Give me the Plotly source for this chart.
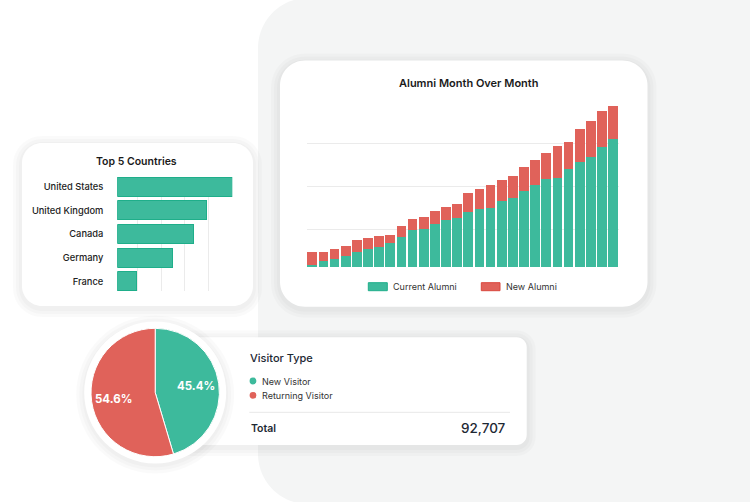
import math
import plotly.graph_objects as go

# ---------------- data ----------------
months = [f"M{i}" for i in range(1, 29)]
current_alumni = [50, 130, 190, 250, 360, 410, 460, 550, 700, 850, 880, 1010, 1090, 1130,
                  1270, 1350, 1370, 1530, 1600, 1770, 1910, 2050, 2070, 2270, 2430, 2550, 2780, 2970]
new_alumni = [290, 230, 230, 250, 270, 260, 260, 200, 260, 260, 290, 300, 300, 340,
              450, 470, 540, 500, 520, 560, 580, 610, 750, 640, 790, 840, 840, 770]
alumni_grid = [877, 1877, 2877, 3877]

countries = ["United States", "United Kingdom", "Canada", "Germany", "France"]
country_values = [4850, 3780, 3230, 2350, 820]
country_grid = [860, 1860, 2860, 3860, 4860]

visitor_types = ["New Visitor", "Returning Visitor"]
visitor_share = [45.4, 54.6]
visitor_total = "92,707"

TEAL = "#3dba9c"
TEAL_EDGE = "#1fae8a"
RED = "#e0625a"
RED_EDGE = "#d9473d"
FONT = "Inter"

W, H = 750, 502


def px(x):
    return x / W


def py(y):
    return 1 - y / H


def rrect_path(x0, y0, x1, y1, r):
    k = 0.5523 * r

    def P(x, y):
        return f"{px(x):.5f},{py(y):.5f}"
    d = f"M {P(x0 + r, y0)} L {P(x1 - r, y0)} "
    d += f"C {P(x1 - r + k, y0)} {P(x1, y0 + r - k)} {P(x1, y0 + r)} "
    d += f"L {P(x1, y1 - r)} "
    d += f"C {P(x1, y1 - r + k)} {P(x1 - r + k, y1)} {P(x1 - r, y1)} "
    d += f"L {P(x0 + r, y1)} "
    d += f"C {P(x0 + r - k, y1)} {P(x0, y1 - r + k)} {P(x0, y1 - r)} "
    d += f"L {P(x0, y0 + r)} "
    d += f"C {P(x0, y0 + r - k)} {P(x0 + r - k, y0)} {P(x0 + r, y0)} Z"
    return d


shapes = []


def add_rrect(x0, y0, x1, y1, r, color, line=None):
    shapes.append(dict(type="path", xref="paper", yref="paper", layer="below",
                       path=rrect_path(x0, y0, x1, y1, r), fillcolor=color,
                       line=dict(width=0) if line is None else line))


def add_shadow(x0, y0, x1, y1, r):
    for s in [9, 6, 3]:
        add_rrect(x0 - s, y0 - s + 2, x1 + s, y1 + s + 2, r + s, "rgba(0,0,0,0.018)")


def add_circle(cx, cy, r, color):
    shapes.append(dict(type="circle", xref="paper", yref="paper", layer="below",
                       x0=px(cx - r), x1=px(cx + r), y0=py(cy + r), y1=py(cy - r),
                       fillcolor=color, line=dict(width=0)))


PIE_CX, PIE_CY, PIE_R = 155.2, 392.5, 64.2

# background gray panel
add_rrect(258, -2, 900, 504, 50, "#f4f5f5")
# alumni card
add_shadow(280, 60.5, 647.5, 306.7, 25)
add_rrect(280, 60.5, 647.5, 306.7, 25, "#ffffff")
# top 5 card
add_shadow(22, 143, 253, 306, 20)
add_rrect(22, 143, 253, 306, 20, "#ffffff")
# visitor card
add_shadow(180, 337.3, 526.7, 445, 10)
add_rrect(180, 337.3, 526.7, 445, 10, "#ffffff")
# pie halo
for s in [8, 5, 2]:
    add_circle(PIE_CX, PIE_CY + 2, 71 + s, "rgba(0,0,0,0.02)")
add_circle(PIE_CX, PIE_CY, 71, "#ffffff")

# legend for alumni chart
shapes.append(dict(type="rect", xref="paper", yref="paper", x0=px(368.3), x1=px(387.3),
                   y0=py(290.7), y1=py(282.7), fillcolor=TEAL, line=dict(color=TEAL_EDGE, width=1)))
shapes.append(dict(type="rect", xref="paper", yref="paper", x0=px(481.3), x1=px(500),
                   y0=py(290.7), y1=py(282.7), fillcolor=RED, line=dict(color=RED_EDGE, width=1)))
# visitor legend dots
for cy, col in [(381, TEAL), (395.3, RED)]:
    shapes.append(dict(type="circle", xref="paper", yref="paper", x0=px(253 - 3.4), x1=px(253 + 3.4),
                       y0=py(cy + 3.4), y1=py(cy - 3.4), fillcolor=col, line=dict(width=0)))
# separator
shapes.append(dict(type="line", xref="paper", yref="paper", x0=px(249.3), x1=px(510),
                   y0=py(412.3), y1=py(412.3), line=dict(color="#e8e8e8", width=1)))

fig = go.Figure()

fig.add_trace(go.Bar(x=months, y=current_alumni, name="Current Alumni",
                     marker=dict(color=TEAL, line=dict(width=0)), xaxis="x", yaxis="y",
                     showlegend=False))
fig.add_trace(go.Bar(x=months, y=new_alumni, name="New Alumni",
                     marker=dict(color=RED, line=dict(width=0)), xaxis="x", yaxis="y",
                     showlegend=False))

fig.add_trace(go.Bar(x=country_values, y=countries, orientation="h",
                     marker=dict(color=TEAL, line=dict(color=TEAL_EDGE, width=1)),
                     xaxis="x2", yaxis="y2", showlegend=False, width=0.8))

fig.add_trace(go.Pie(labels=visitor_types, values=visitor_share, sort=False,
                     direction="clockwise", rotation=0,
                     marker=dict(colors=[TEAL, RED], line=dict(color="#ffffff", width=1)),
                     textinfo="none",
                     domain=dict(x=[px(PIE_CX - PIE_R), px(PIE_CX + PIE_R)],
                                 y=[py(PIE_CY + PIE_R), py(PIE_CY - PIE_R)]),
                     showlegend=False, hoverinfo="label+percent"))


def ann(text, x, y, xanchor, size, color, weight=400):
    return dict(text=text, x=px(x), y=py(y), xanchor=xanchor, yanchor="middle",
                xref="paper", yref="paper", showarrow=False,
                font=dict(family=FONT, size=size, color=color, weight=weight))


annotations = [
    ann("Alumni Month Over Month", 468.3, 82.7, "center", 11, "#1a1a1a", 600),
    ann("Current Alumni", 391, 286.7, "left", 9, "#333333"),
    ann("New Alumni", 504, 286.7, "left", 9, "#333333"),
    ann("Top 5 Countries", 136.7, 162, "center", 10.5, "#1a1a1a", 600),
    ann("Visitor Type", 247.5, 358.3, "left", 11, "#1d2833", 500),
    ann("New Visitor", 259.5, 381, "left", 9, "#333333"),
    ann("Returning Visitor", 259.5, 395.3, "left", 9, "#333333"),
    ann("Total", 248.5, 428.3, "left", 10.5, "#1d2833", 600),
    ann(visitor_total, 508, 428.3, "right", 13.5, "#1d2833", 500),
]

# percentage labels inside the pie slices, placed along each slice's bisector
total_share = sum(visitor_share)
cum = 0.0
for share in visitor_share:
    mid = (cum + share / 2) / total_share * 2 * math.pi
    cum += share
    lx = PIE_CX + 0.65 * PIE_R * math.sin(mid)
    ly = PIE_CY - 0.65 * PIE_R * math.cos(mid)
    annotations.append(ann(f"{share:.1f}%", lx, ly, "center", 11.5, "#ffffff", 700))

fig.update_layout(
    width=W, height=H, margin=dict(l=0, r=0, t=0, b=0),
    paper_bgcolor="#ffffff", plot_bgcolor="rgba(0,0,0,0)",
    barmode="stack", bargap=0.13,
    shapes=shapes, annotations=annotations,
    font=dict(family=FONT),
    xaxis=dict(domain=[px(306.7), px(618.7)], range=[-0.5, 27.5], showticklabels=False,
               showgrid=False, zeroline=False, showline=False, ticks="", fixedrange=True),
    yaxis=dict(domain=[py(267), py(99.7)], range=[0, 3890], tickvals=alumni_grid,
               showticklabels=False, showgrid=True, gridcolor="#ebebeb", gridwidth=1,
               zeroline=False, showline=False, ticks="", fixedrange=True),
    xaxis2=dict(domain=[px(117.3), px(232.3)], range=[0, 4860], tickvals=country_grid,
                showticklabels=False, showgrid=True, gridcolor="#ebebeb", gridwidth=1,
                zeroline=False, showline=False, ticks="", anchor="y2", fixedrange=True),
    yaxis2=dict(domain=[py(290.9), py(177.1)], range=[4.4, -0.4], type="category",
                categoryorder="array", categoryarray=countries, anchor="x2",
                showgrid=False, zeroline=False, showline=False, ticks="",
                ticklabelstandoff=13,
                tickfont=dict(family=FONT, size=9.3, color="#222222", weight=500),
                fixedrange=True),
)

fig.write_html("out.html", config=dict(displayModeBar=False),
               post_script="document.body.style.margin='0px';")
